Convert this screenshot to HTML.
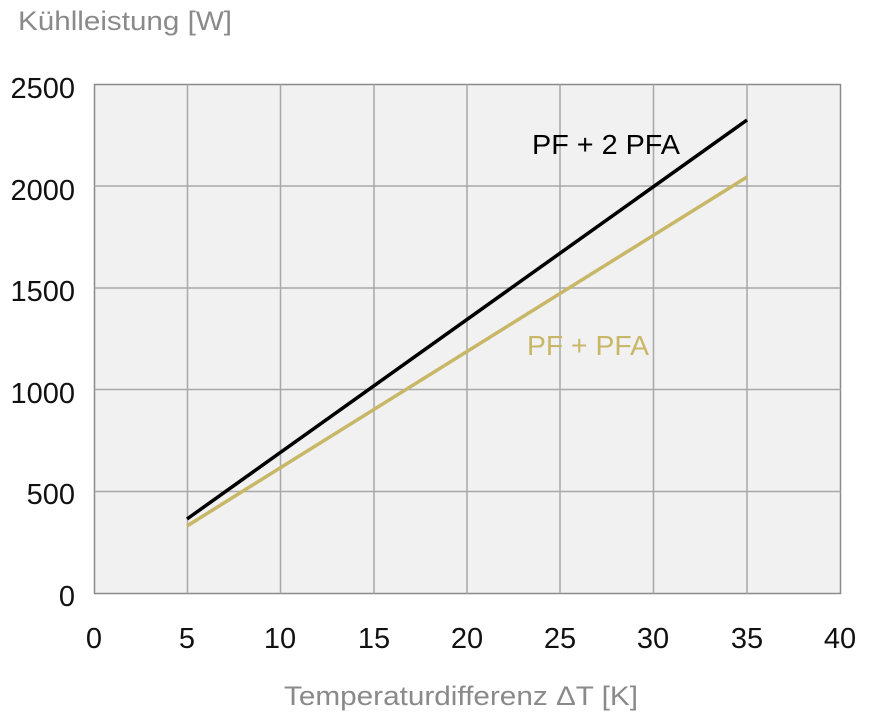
<!DOCTYPE html>
<html><head><style>html,body{margin:0;padding:0;background:#fff}</style></head><body>
<svg width="872" height="721" xmlns="http://www.w3.org/2000/svg" font-family="Liberation Sans, sans-serif">
<rect x="94.5" y="84.5" width="746" height="509" fill="#f1f1f1" stroke="#8a8a8a" stroke-width="1.5"/>
<g stroke="#a8a8a8" stroke-width="1.5">
<line x1="187.5" y1="84.5" x2="187.5" y2="593.5"/>
<line x1="280.5" y1="84.5" x2="280.5" y2="593.5"/>
<line x1="374" y1="84.5" x2="374" y2="593.5"/>
<line x1="467" y1="84.5" x2="467" y2="593.5"/>
<line x1="560" y1="84.5" x2="560" y2="593.5"/>
<line x1="653.5" y1="84.5" x2="653.5" y2="593.5"/>
<line x1="747" y1="84.5" x2="747" y2="593.5"/>
<line x1="94.5" y1="186" x2="840.5" y2="186"/>
<line x1="94.5" y1="288" x2="840.5" y2="288"/>
<line x1="94.5" y1="389.5" x2="840.5" y2="389.5"/>
<line x1="94.5" y1="491.5" x2="840.5" y2="491.5"/>
</g>
<line x1="187" y1="519" x2="747" y2="120" stroke="#000" stroke-width="3.5"/>
<line x1="187" y1="526" x2="747" y2="177" stroke="#c8b767" stroke-width="3.5"/>
<g font-size="29" fill="#111" text-anchor="end">
<text x="75" y="98">2500</text>
<text x="75" y="200">2000</text>
<text x="75" y="301">1500</text>
<text x="75" y="403">1000</text>
<text x="75" y="504">500</text>
<text x="75" y="606">0</text>
</g>
<g font-size="29" fill="#111" text-anchor="middle">
<text x="94" y="648">0</text><text x="187" y="648">5</text><text x="280" y="648">10</text>
<text x="374" y="648">15</text><text x="467" y="648">20</text><text x="560" y="648">25</text>
<text x="653" y="648">30</text><text x="747" y="648">35</text><text x="840" y="648">40</text>
</g>
<text x="532" y="154" font-size="28" fill="#000" textLength="148" lengthAdjust="spacingAndGlyphs">PF + 2 PFA</text>
<text x="527" y="355" font-size="28" fill="#c8b767" textLength="122" lengthAdjust="spacingAndGlyphs">PF + PFA</text>
<text x="18" y="30" font-size="27" fill="#8a8a8a" textLength="214" lengthAdjust="spacingAndGlyphs">Kühlleistung [W]</text>
<text x="284" y="705" font-size="27" fill="#8a8a8a" textLength="354" lengthAdjust="spacingAndGlyphs">Temperaturdifferenz ΔT [K]</text>
</svg>
</body></html>
